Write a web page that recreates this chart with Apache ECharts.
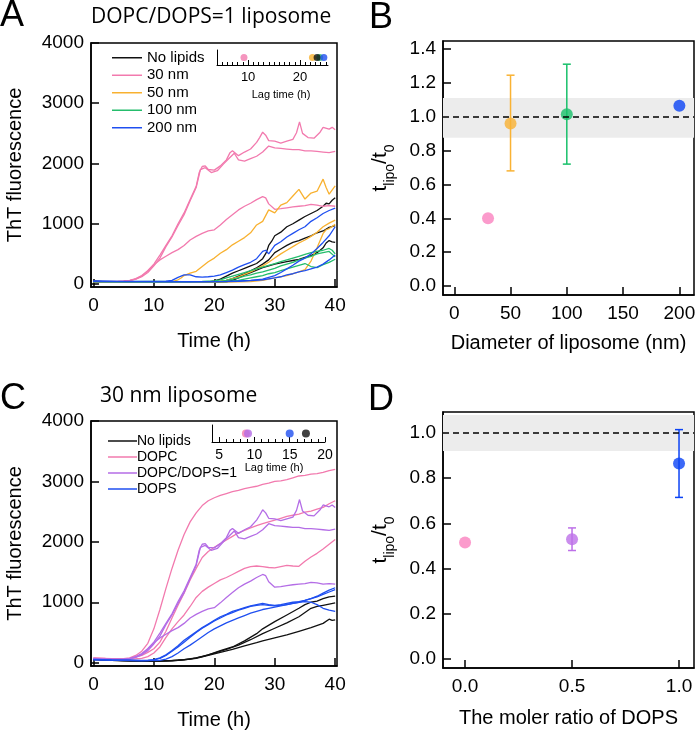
<!DOCTYPE html>
<html><head><meta charset="utf-8">
<script src="https://cdn.jsdelivr.net/npm/echarts@6/dist/echarts.min.js"></script>
<style>html,body{margin:0;padding:0;background:#fff}#c{width:700px;height:732px}</style>
</head><body><div id="c"></div>
<script>
// ---------- Panel A: DOPC/DOPS=1 liposome, ThT fluorescence vs time (h) ----------
const aNoLipids1 = [[0,50],[2,35],[5,30],[9,32],[13,28],[17,30],[19,35],[20,50],[21,80],[22,130],[23,180],[24,220],[25,260],[26,300],[27,340],[28,420],[28.6,520],[29,640],[29.5,710],[30,800],[31,860],[32,950],[33,1000],[34,1060],[35,1120],[36,1170],[37,1220],[38,1290],[38.5,1340],[39,1330],[39.5,1390],[40,1430]];
const aNoLipids2 = [[0,45],[3,30],[7,28],[12,30],[16,27],[20,30],[21,40],[22,60],[23,90],[24,130],[25,170],[26,220],[27,270],[28,330],[29,400],[30,520],[31,580],[32,640],[33,690],[34,720],[35,760],[36,800],[37,850],[38,880],[39,940],[40,970]];
const aNoLipids3 = [[0,40],[4,28],[10,27],[15,30],[20,28],[22,35],[23,60],[24,100],[25,150],[26,190],[27,230],[28,270],[29,300],[30,330],[31,350],[32,370],[33,390],[34,410],[35,440],[36,470],[37,520],[38,600],[38.5,680],[39,720],[39.5,700],[40,690]];
const a30nm1 = [[0,45],[2,40],[4,45],[5,50],[6,60],[7,90],[8,140],[9,220],[10,330],[11,480],[12,640],[13,800],[14,1000],[15,1180],[16,1400],[17,1620],[17.5,1850],[18,1950],[18.5,1960],[19,1900],[20,1890],[21,1960],[22,2060],[22.6,2180],[23,2210],[24,2130],[25,2190],[26,2240],[27,2350],[27.5,2430],[28,2520],[28.5,2470],[29,2380],[30,2370],[31,2340],[32,2370],[33,2400],[33.6,2510],[34.1,2690],[34.6,2500],[35.5,2430],[36.5,2420],[37.5,2520],[38,2600],[39,2570],[39.5,2600],[40,2560]];
const a30nm2 = [[0,40],[3,45],[5,48],[6,55],[7,80],[8,120],[9,190],[10,300],[11,430],[12,620],[13,780],[14,970],[15,1150],[16,1380],[17,1600],[17.7,1900],[18.5,1930],[19.5,1850],[20.5,1880],[21.5,1990],[22.5,2090],[23.3,2170],[24,2060],[25,2040],[26,2080],[27,2120],[28,2190],[29,2290],[29.3,2320],[30,2260],[31,2250],[32,2240],[33,2230],[34,2230],[35,2210],[36,2210],[37,2200],[38,2190],[39,2180],[40,2200]];
const a30nm3 = [[0,42],[3,40],[5,45],[6,55],[7,80],[8,130],[9,220],[10,320],[11,400],[12,460],[13,520],[14,570],[15,640],[16,730],[17,790],[18,840],[19,880],[20,900],[21,980],[22,1070],[23,1150],[24,1230],[25,1290],[26,1340],[27,1400],[28,1450],[28.5,1430],[29,1330],[30,1240],[31,1250],[32,1265],[33,1280],[34,1290],[35,1300],[36,1320],[37,1310],[38,1290],[39,1300],[40,1290]];
const a50nm1 = [[0,40],[5,35],[10,38],[13,40],[14,70],[14.5,100],[15,140],[16,180],[17,210],[18,290],[19,370],[20,430],[21,510],[22,570],[23,650],[24,710],[25,770],[26,850],[27,980],[28,1040],[29,1230],[30,1180],[31,1310],[32,1350],[33,1460],[34,1570],[35,1410],[36,1510],[37,1540],[38,1740],[38.5,1600],[39,1490],[40,1630]];
const a50nm2 = [[0,35],[6,30],[12,32],[18,30],[20,35],[22,60],[23,90],[24,120],[25,160],[26,200],[27,250],[28,300],[29,360],[30,430],[31,500],[32,560],[33,620],[34,680],[35,730],[36,790],[37,860],[38,950],[39,1010],[40,1060]];
const a50nm3 = [[0,30],[8,28],[16,30],[22,32],[26,40],[28,60],[30,100],[32,140],[34,200],[35,240],[36,380],[37,600],[38,840],[38.5,900],[39,920],[40,990]];
const a100nm1 = [[0,45],[5,40],[10,42],[15,40],[18,42],[20,50],[21,70],[22,100],[23,130],[24,160],[25,190],[26,220],[27,250],[28,280],[29,310],[30,340],[31,370],[32,400],[33,430],[34,460],[35,490],[36,520],[37,540],[38,560],[39,590],[39.5,560],[40,500]];
const a100nm2 = [[0,40],[6,38],[12,40],[18,38],[21,45],[22,60],[23,80],[24,100],[25,130],[26,150],[27,180],[28,200],[29,230],[30,260],[31,300],[32,330],[33,360],[34,400],[35,430],[36,460],[37,500],[38,520],[39,540],[40,450]];
const a100nm3 = [[0,38],[8,36],[16,38],[22,40],[23,50],[24,60],[25,80],[26,100],[27,120],[28,140],[29,170],[30,190],[31,220],[32,250],[33,280],[34,310],[35,340],[36,290],[37,270],[38,320],[39,360],[40,410]];
const a200nm1 = [[0,50],[4,42],[8,45],[12,48],[13,60],[14,110],[15,150],[16,150],[17,120],[18,115],[19,120],[20,130],[21,150],[22,190],[23,230],[24,280],[25,320],[26,360],[27,420],[28,540],[28.5,560],[29,500],[30,640],[31,700],[32,780],[33,840],[34,900],[35,950],[36,1040],[37,1100],[38,1170],[39,1220],[40,1260]];
const a200nm2 = [[0,45],[6,40],[12,38],[18,40],[22,42],[24,50],[26,60],[28,80],[30,140],[31,190],[32,250],[33,310],[34,380],[35,430],[36,500],[37,590],[38,690],[39,800],[40,950]];
const a200nm3 = [[0,40],[8,38],[16,36],[22,38],[24,45],[26,55],[28,70],[30,100],[31,120],[32,150],[33,170],[34,200],[35,220],[36,250],[37,280],[38,330],[39,400],[40,480]];
const aTimeTicks = [0,10,20,30,40];
const aFluorTicks = [0,1000,2000,3000,4000];
// inset A: lag times (h)
const aLagNames = ['100 nm','50 nm','No lipids','200 nm','30 nm'];
const aLagTimes = [23.8,22.4,23.3,24.6,9.2];
const aLagMinor = [5,6,7,8,9,11,12,13,14,15,16,17,18,19,21,22,23,24,25];
const aLagMajor = [10,20];

// ---------- Panel B ----------
const bDiameter = [30,50,100,200];
const bRatio = [0.40,0.96,1.015,1.065];
const bErrLow = [null,0.68,0.72,null];
const bErrHigh = [null,1.245,1.31,null];
const bBand = [0.875,1.11];
const bXTicks = [0,50,100,150,200];
const bYTicks = [0,0.2,0.4,0.6,0.8,1.0,1.2,1.4];

// ---------- Panel C: 30 nm liposome ----------
const cNoLipids1 = [[0,60],[2,45],[5,35],[8,30],[11,28],[13,35],[15,50],[17,80],[19,130],[21,200],[23,260],[25,360],[27,480],[28,560],[30,680],[32,790],[34,900],[35,960],[36,1000],[37,1020],[38,1060],[39,1090],[40,1100]];
const cNoLipids2 = [[0,55],[3,40],[6,32],[9,28],[12,30],[14,40],[16,60],[18,100],[20,160],[22,220],[24,290],[26,380],[28,480],[30,570],[32,660],[34,760],[35,830],[36,900],[37,930],[38,950],[39,970],[40,990]];
const cNoLipids3 = [[0,50],[3,38],[6,30],[10,28],[13,32],[15,45],[17,70],[19,120],[21,170],[23,220],[25,280],[27,330],[28,360],[30,410],[32,460],[34,520],[36,580],[38,650],[39,720],[39.5,700],[40,710]];
const cDOPC1 = [[0,80],[2,70],[4,62],[5,65],[6,80],[7,120],[8,190],[9,320],[10,560],[11,880],[12,1230],[13,1560],[14,1860],[15,2120],[16,2330],[17,2480],[18,2600],[19,2680],[20,2730],[21,2770],[22,2800],[23,2830],[24,2850],[25,2880],[26,2900],[27,2920],[28,2950],[29,2970],[30,3000],[31,3010],[32,3030],[33,3060],[34,3090],[35,3100],[36,3120],[37,3130],[38,3150],[39,3180],[40,3200]];
const cDOPC2 = [[0,75],[3,65],[5,62],[6,70],[7,90],[8,120],[9,170],[10,230],[11,340],[12,520],[13,740],[14,950],[15,1150],[16,1370],[17,1560],[18,1740],[19,1840],[20,1910],[21,1970],[22,2030],[23,2090],[24,2150],[25,2190],[26,2230],[27,2270],[28,2300],[29,2330],[30,2360],[31,2390],[32,2420],[33,2440],[34,2460],[35,2490],[36,2510],[37,2540],[38,2570],[39,2630],[40,2680]];
const cDOPC3 = [[0,70],[3,60],[6,58],[8,70],[9,100],[10,160],[11,260],[12,420],[13,560],[14,680],[15,790],[16,930],[17,1080],[18,1180],[19,1250],[20,1310],[21,1370],[22,1410],[23,1460],[24,1510],[25,1560],[26,1590],[27,1600],[28,1590],[29,1575],[30,1570],[31,1590],[32,1610],[33,1600],[34,1595],[35,1680],[36,1750],[37,1810],[38,1880],[39,1960],[40,2040]];
const cMix1 = [[0,70],[2,60],[4,55],[5,60],[6,70],[7,100],[8,150],[9,230],[10,340],[11,490],[12,650],[13,810],[14,1010],[15,1190],[16,1410],[17,1630],[17.5,1860],[18,1960],[18.5,1970],[19,1910],[20,1900],[21,1970],[22,2070],[22.6,2190],[23,2220],[24,2140],[25,2200],[26,2250],[27,2360],[27.5,2440],[28,2530],[28.5,2480],[29,2390],[30,2380],[31,2350],[32,2380],[33,2410],[33.6,2520],[34.1,2700],[34.6,2510],[35.5,2440],[36.5,2430],[37.5,2530],[38,2610],[39,2580],[39.5,2610],[40,2570]];
const cMix2 = [[0,65],[3,58],[5,55],[6,62],[7,90],[8,130],[9,200],[10,310],[11,440],[12,630],[13,790],[14,980],[15,1160],[16,1390],[17,1610],[17.7,1910],[18.5,1940],[19.5,1860],[20.5,1890],[21.5,2000],[22.5,2100],[23.3,2180],[24,2070],[25,2050],[26,2090],[27,2130],[28,2200],[29,2300],[29.3,2330],[30,2270],[31,2260],[32,2250],[33,2240],[34,2240],[35,2220],[36,2220],[37,2210],[38,2200],[39,2190],[40,2210]];
const cMix3 = [[0,60],[3,55],[5,55],[6,62],[7,90],[8,140],[9,230],[10,330],[11,410],[12,470],[13,530],[14,580],[15,650],[16,740],[17,800],[18,850],[19,890],[20,910],[21,990],[22,1080],[23,1160],[24,1240],[25,1300],[26,1350],[27,1410],[28,1460],[28.5,1440],[29,1340],[30,1250],[31,1260],[32,1275],[33,1290],[34,1300],[35,1310],[36,1330],[37,1320],[38,1300],[39,1310],[40,1300]];
const cDOPS1 = [[0,55],[3,45],[6,40],[8,35],[9,38],[10,50],[11,80],[12,130],[13,200],[14,280],[15,370],[16,440],[17,510],[18,580],[19,640],[20,700],[21,760],[22,800],[23,850],[24,880],[25,910],[26,940],[27,960],[28,980],[29,960],[30,950],[31,960],[32,980],[33,1000],[34,1010],[35,1030],[36,1060],[37,1100],[38,1150],[39,1200],[40,1240]];
const cDOPS2 = [[0,50],[3,42],[6,38],[9,36],[10,45],[11,70],[12,120],[13,190],[14,260],[15,340],[16,420],[17,500],[18,570],[19,630],[20,690],[21,740],[22,790],[23,830],[24,870],[25,900],[26,930],[27,950],[28,960],[29,950],[30,940],[31,950],[32,960],[33,980],[34,1000],[35,1010],[36,1000],[37,960],[38,900],[39,870],[40,850]];
const cDOPS3 = [[0,45],[4,40],[8,35],[11,38],[12,60],[13,100],[14,160],[15,230],[16,290],[17,360],[18,430],[19,500],[20,560],[21,610],[22,660],[23,700],[24,740],[25,780],[26,820],[27,850],[28,880],[29,900],[30,920],[31,940],[32,960],[33,980],[34,1000],[35,1030],[36,1060],[37,1090],[38,1130],[39,1170],[40,1210]];
// inset C: lag times (h)
const cLagNames = ['DOPC','DOPC/DOPS=1','DOPS','No lipids'];
const cLagTimes = [8.8,9.1,15.0,17.3];
const cLagMinor = [6,7,8,9,11,12,13,14,16,17,18,19];
const cLagMajor = [5,10,15,20];

// ---------- Panel D ----------
const dRatioDOPS = [0.0,0.5,1.0];
const dRatio = [0.515,0.53,0.865];
const dErrLow = [null,0.48,0.715];
const dErrHigh = [null,0.58,1.015];
const dBand = [0.92,1.08];
const dXTicks = [0,0.5,1.0];
const dYTicks = [0,0.2,0.4,0.6,0.8,1.0];
const refRatio = 1.0;

// ---------- styling ----------
const FONT = 'Liberation Sans';
const COL = {
  'No lipids':'#111111','30 nm':'#f27aae','50 nm':'#f8b130','100 nm':'#25bd6c','200 nm':'#1f4ff0',
  'DOPC':'#f27aae','DOPC/DOPS=1':'#b46de6','DOPS':'#1f4ff0'
};
const bColors = ['#fa82bf','#f9b233','#18c06a','#0b43f5'];
const dColors = ['#fa82bf','#bd70e8','#0b43f5'];

function lineS(name, data, idx){
  return {type:'line', name, data, xAxisIndex:idx[0], yAxisIndex:idx[1], symbol:'none', showSymbol:false,
    lineStyle:{color:COL[name], width:1.3}, itemStyle:{color:COL[name]}, silent:true, z:2};
}
function frameX(grid, min, max, ticks, fmt, name, gap){
  return {gridIndex:grid, type:'value', min, max, splitLine:{show:false},
    axisLine:{show:true, onZero:false, lineStyle:{color:'#000', width:1.5}},
    axisTick:{show:true, inside:true, length:8, customValues:ticks, lineStyle:{color:'#000', width:1.5}},
    axisLabel:{customValues:ticks, formatter:fmt, fontSize:19, fontFamily:FONT, color:'#000', margin:9},
    name, nameLocation:'middle', nameGap:gap, nameTextStyle:{fontSize:20, fontFamily:FONT, color:'#000'}};
}
function frameY(grid, min, max, ticks, fmt, name, gap, rich){
  const ax = {gridIndex:grid, type:'value', min, max, splitLine:{show:false},
    axisLine:{show:true, onZero:false, lineStyle:{color:'#000', width:1.5}},
    axisTick:{show:true, inside:true, length:8, customValues:ticks, lineStyle:{color:'#000', width:1.5}},
    axisLabel:{customValues:ticks, formatter:fmt, fontSize:19, fontFamily:FONT, color:'#000', margin:7},
    name, nameLocation:'middle', nameGap:gap, nameTextStyle:{fontSize:20, fontFamily:FONT, color:'#000'}};
  if (rich) ax.nameTextStyle.rich = rich;
  return ax;
}
function insetX(grid, min, max, ticks, len, labels, fs){
  return {gridIndex:grid, type:'value', min, max, position:'bottom', splitLine:{show:false},
    axisLine:{show:labels, onZero:false, lineStyle:{color:'#000', width:1}},
    axisTick:{show:true, inside:true, length:len, customValues:ticks, lineStyle:{color:'#000', width:1}},
    axisLabel:{show:labels, customValues:ticks, fontSize:fs, fontFamily:FONT, color:'#000', margin:6}};
}
function insetY(grid){
  return {gridIndex:grid, type:'value', min:0, max:1, splitLine:{show:false}, axisTick:{show:false}, axisLabel:{show:false},
    axisLine:{show:true, lineStyle:{color:'#000', width:1}}};
}
const f1 = v => v.toFixed(1);
const f0 = v => String(Math.round(v));
const tRich = {
  t:{fontSize:21, fontFamily:FONT, color:'#000', lineHeight:27, verticalAlign:'top'},
  s:{fontSize:14, fontFamily:FONT, color:'#000', lineHeight:27, verticalAlign:'bottom'}
};
const tName = '{t|t}{s|lipo}{t|/t}{s|0}';

function errRender(params, api){
  const x = api.value(0), lo = api.value(1), hi = api.value(2);
  const p1 = api.coord([x, lo]), p2 = api.coord([x, hi]);
  const w = 4, st = {stroke: api.visual('color'), lineWidth: 1.5};
  return {type:'group', children:[
    {type:'line', shape:{x1:p1[0], y1:p1[1], x2:p2[0], y2:p2[1]}, style:st},
    {type:'line', shape:{x1:p1[0]-w, y1:p1[1], x2:p1[0]+w, y2:p1[1]}, style:st},
    {type:'line', shape:{x1:p2[0]-w, y1:p2[1], x2:p2[0]+w, y2:p2[1]}, style:st}
  ]};
}
function errData(xs, lo, hi, cols){
  const out = [];
  xs.forEach((x,i)=>{ if (lo[i] !== null) out.push({value:[x, lo[i], hi[i]], itemStyle:{color:cols[i]}}); });
  return out;
}
function ptData(xs, ys, cols){ return xs.map((x,i)=>({value:[x, ys[i]], itemStyle:{color:cols[i]}})); }

const grid = [
  {left:91, top:43, width:246, height:244, show:true, borderColor:'#000', borderWidth:1.5},   // A
  {left:217, top:50, width:111, height:15},                                                  // A inset
  {left:443, top:41, width:251, height:254, show:true, borderColor:'#000', borderWidth:1.5},  // B
  {left:91, top:421, width:246, height:245, show:true, borderColor:'#000', borderWidth:1.5},  // C
  {left:212, top:425, width:113, height:17},                                                 // C inset
  {left:443, top:412, width:251, height:256, show:true, borderColor:'#000', borderWidth:1.5}  // D
];
const xAxis = [
  frameX(0, -0.4, 40.3, aTimeTicks, f0, 'Time (h)', 44),
  insetX(1, 4, 25.4, aLagMinor, 3, false, 13),
  insetX(1, 4, 25.4, aLagMajor, 5, true, 13),
  frameX(2, -10, 213, bXTicks, f0, 'Diameter of liposome (nm)', 38),
  frameX(3, -0.4, 40.3, aTimeTicks, f0, 'Time (h)', 44),
  insetX(4, 4, 20, cLagMinor, 3, false, 14),
  insetX(4, 4, 20, cLagMajor, 5, true, 14),
  frameX(5, -0.103, 1.07, dXTicks, f1, 'The moler ratio of DOPS', 40)
];
const yAxis = [
  frameY(0, -50, 4000, aFluorTicks, f0, 'ThT fluorescence', 66),
  insetY(1),
  frameY(2, -0.053, 1.447, bYTicks, f1, tName, 46, tRich),
  frameY(3, -55, 4000, aFluorTicks, f0, 'ThT fluorescence', 66),
  insetY(4),
  frameY(5, -0.04, 1.093, dYTicks, f1, tName, 46, tRich)
];

const series = [];
// Panel A curves
[[ 'No lipids',[aNoLipids1,aNoLipids2,aNoLipids3]], ['30 nm',[a30nm1,a30nm2,a30nm3]], ['50 nm',[a50nm1,a50nm2,a50nm3]],
 ['100 nm',[a100nm1,a100nm2,a100nm3]], ['200 nm',[a200nm1,a200nm2,a200nm3]]].forEach(([n,arr])=>arr.forEach(d=>series.push(lineS(n,d,[0,0]))));
// Panel C curves
[[ 'No lipids',[cNoLipids1,cNoLipids2,cNoLipids3]], ['DOPC',[cDOPC1,cDOPC2,cDOPC3]], ['DOPC/DOPS=1',[cMix1,cMix2,cMix3]],
 ['DOPS',[cDOPS1,cDOPS2,cDOPS3]]].forEach(([n,arr])=>arr.forEach(d=>series.push(lineS(n,d,[4,3]))));
// insets
series.push({type:'scatter', xAxisIndex:1, yAxisIndex:1, symbolSize:7, silent:true, z:5,
  data: aLagTimes.map((t,i)=>({value:[t,0.5], itemStyle:{color:COL[aLagNames[i]]}}))});
series.push({type:'scatter', xAxisIndex:5, yAxisIndex:4, symbolSize:8, silent:true, z:5,
  data: cLagTimes.map((t,i)=>({value:[t,0.5], itemStyle:{color:COL[cLagNames[i]]}}))});
// Panel B
series.push({type:'scatter', xAxisIndex:3, yAxisIndex:2, symbolSize:1, silent:true, data:[],
  markArea:{silent:true, itemStyle:{color:'#ececec'}, data:[[{yAxis:bBand[0]},{yAxis:bBand[1]}]]},
  markLine:{silent:true, symbol:['none','none'], label:{show:false}, lineStyle:{color:'#000', width:1.5, type:[6,4]}, data:[{yAxis:refRatio}]}});
series.push({type:'custom', xAxisIndex:3, yAxisIndex:2, renderItem:errRender, silent:true, z:3, data:errData(bDiameter,bErrLow,bErrHigh,bColors)});
series.push({type:'scatter', xAxisIndex:3, yAxisIndex:2, symbolSize:12, silent:true, z:4, data:ptData(bDiameter,bRatio,bColors)});
// Panel D
series.push({type:'scatter', xAxisIndex:7, yAxisIndex:5, symbolSize:1, silent:true, data:[],
  markArea:{silent:true, itemStyle:{color:'#ececec'}, data:[[{yAxis:dBand[0]},{yAxis:dBand[1]}]]},
  markLine:{silent:true, symbol:['none','none'], label:{show:false}, lineStyle:{color:'#000', width:1.5, type:[6,4]}, data:[{yAxis:refRatio}]}});
series.push({type:'custom', xAxisIndex:7, yAxisIndex:5, renderItem:errRender, silent:true, z:3, data:errData(dRatioDOPS,dErrLow,dErrHigh,dColors)});
series.push({type:'scatter', xAxisIndex:7, yAxisIndex:5, symbolSize:12, silent:true, z:4, data:ptData(dRatioDOPS,dRatio,dColors)});

const legend = [
  {orient:'vertical', left:107, top:44, icon:'rect', itemWidth:30, itemHeight:1.5, itemGap:0, selectedMode:false,
   data:['No lipids','30 nm','50 nm','100 nm','200 nm'], textStyle:{fontSize:15, lineHeight:17.5, fontFamily:FONT, color:'#000'}},
  {orient:'vertical', left:103, top:428, icon:'rect', itemWidth:29, itemHeight:1.5, itemGap:0, selectedMode:false,
   data:['No lipids','DOPC','DOPC/DOPS=1','DOPS'], textStyle:{fontSize:14, lineHeight:16, fontFamily:FONT, color:'#000', padding:[0,0,0,-5]}}
];

const txt = (x,y,t,fs,ff,align) => ({type:'text', x, y, style:{text:t, fontSize:fs, fontFamily:ff, fill:'#000', align:align||'left', verticalAlign:'middle'}});
const graphic = [
  txt(0,16,'A',36,FONT), txt(369,18,'B',36,FONT), txt(0,399,'C',36,FONT), txt(368,400,'D',36,FONT),
  txt(91,17,'DOPC/DOPS=1 liposome',21,'Open Sans'),
  txt(100,396,'30 nm liposome',21,'Open Sans'),
  txt(281,95,'Lag time (h)',11,FONT,'center'),
  txt(274,468,'Lag time (h)',11,FONT,'center')
];

const chart = echarts.init(document.getElementById('c'), null, {renderer:'canvas'});
chart.setOption({animation:false, backgroundColor:'#fff', grid, xAxis, yAxis, series, legend, graphic});
</script></body></html>
